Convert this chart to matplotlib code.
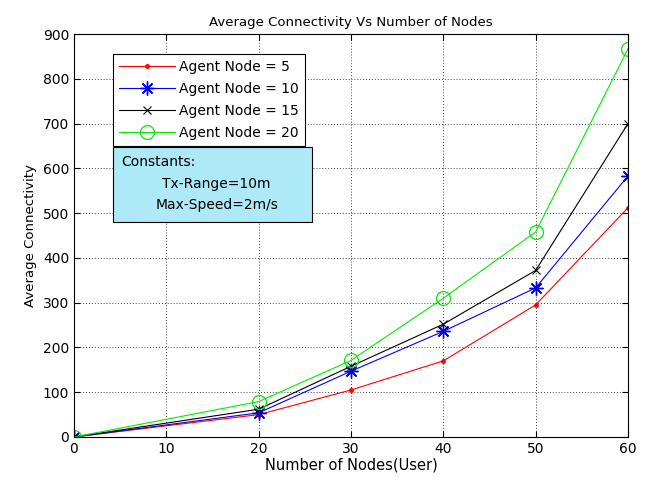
import matplotlib
matplotlib.use("Agg")
import matplotlib.pyplot as plt
from matplotlib.patches import Rectangle

nodes = [0, 10, 20, 30, 40, 50, 60]
x = [0, 20, 30, 40, 50, 60]
agent5 = [0, 50, 105, 170, 295, 512]
agent10 = [0, 54, 147, 236, 333, 583]
agent15 = [0, 62, 158, 252, 372, 700]
agent20 = [0, 79, 171, 310, 458, 867]
labels = ["Agent Node = 5", "Agent Node = 10", "Agent Node = 15", "Agent Node = 20"]
yticks = [0, 100, 200, 300, 400, 500, 600, 700, 800, 900]

plt.rcParams['font.family'] = ['DejaVu Sans']
fig = plt.figure(figsize=(6.5, 4.8), dpi=100)
ax = fig.add_axes([74/650, 43/480, 554/650, 403/480])

ax.plot(x, agent5, color='red', marker='.', markersize=5, lw=0.8, label=labels[0])
ax.plot(x, agent10, color='blue', marker=(8, 2, 0), markersize=10, mew=1.0, lw=0.8, label=labels[1])
ax.plot(x, agent15, color='black', marker='x', markersize=6, mew=0.8, lw=0.8, label=labels[2])
ax.plot(x, agent20, color='#00ee00', marker='o', markersize=10, mfc='none', mew=0.9, lw=0.8, label=labels[3])

ax.set_xlim(0, 60)
ax.set_ylim(0, 900)
ax.set_xticks(nodes)
ax.set_yticks(yticks)
ax.grid(True, color='black', linestyle=(0, (1, 2.5)), linewidth=0.6)
ax.tick_params(direction='in', top=True, right=True, labelsize=10, length=4)
for s in ax.spines.values():
    s.set_linewidth(0.8)

ax.set_title("Average Connectivity Vs Number of Nodes", fontsize=9.5)
ax.set_xlabel("Number of Nodes(User)", fontsize=10.5, labelpad=1)
ax.set_ylabel("Average Connectivity", fontsize=9.5, labelpad=4)

leg = ax.legend(loc='upper left', bbox_to_anchor=((113-74)/554, (437-54)/403),
                fontsize=10, frameon=True, fancybox=False, edgecolor='black',
                framealpha=1, borderaxespad=0, handlelength=4.0, labelspacing=0.56,
                borderpad=0.45, handletextpad=0.3)
leg.get_frame().set_linewidth(0.8)

# constants box in figure pixel coords
box = Rectangle((113/650, (480-222)/480), (312-113)/650, (222-147)/480,
                transform=fig.transFigure, facecolor='#aee9f7', edgecolor='black',
                linewidth=0.8, zorder=5)
fig.patches.append(box)
fig.text(121/650, (480-162)/480, "Constants:", fontsize=10, va='center', ha='left', zorder=6)
fig.text(162/650, (480-184)/480, "Tx-Range=10m", fontsize=10, va='center', ha='left', zorder=6)
fig.text(156/650, (480-205)/480, "Max-Speed=2m/s", fontsize=10, va='center', ha='left', zorder=6)

fig.savefig("out.png", dpi=100)
